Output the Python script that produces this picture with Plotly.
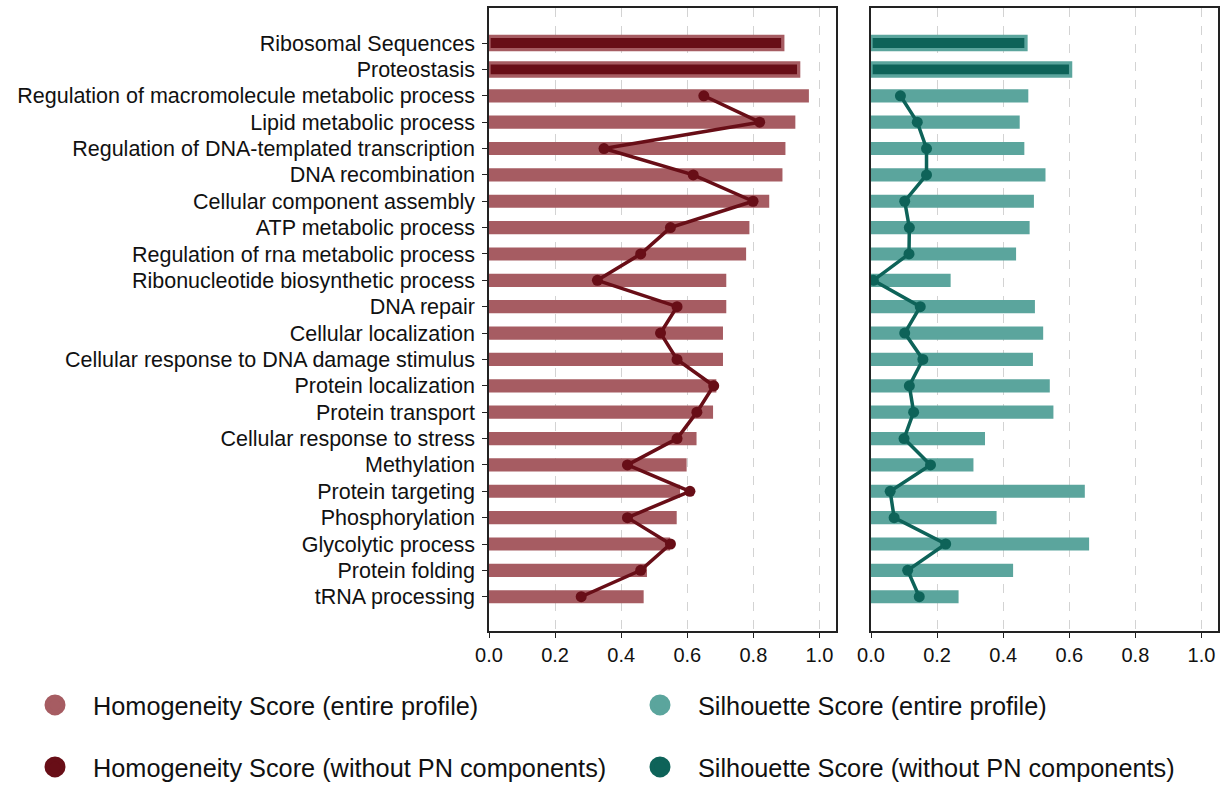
import plotly.graph_objects as go

categories = [
    "Ribosomal Sequences", "Proteostasis",
    "Regulation of macromolecule metabolic process", "Lipid metabolic process",
    "Regulation of DNA-templated transcription", "DNA recombination",
    "Cellular component assembly", "ATP metabolic process",
    "Regulation of rna metabolic process", "Ribonucleotide biosynthetic process",
    "DNA repair", "Cellular localization", "Cellular response to DNA damage stimulus",
    "Protein localization", "Protein transport", "Cellular response to stress",
    "Methylation", "Protein targeting", "Phosphorylation", "Glycolytic process",
    "Protein folding", "tRNA processing",
]

# Homogeneity score (entire profile)
homog_entire = [0.889, 0.937, 0.968, 0.927, 0.897, 0.888, 0.848, 0.788, 0.778, 0.718,
                0.718, 0.708, 0.708, 0.688, 0.678, 0.628, 0.598, 0.578, 0.568, 0.548,
                0.478, 0.468]
# Homogeneity score (without PN components)
homog_top_without = [0.889, 0.937]
homog_without = [0.650, 0.819, 0.348, 0.618, 0.799, 0.549, 0.459, 0.328, 0.569, 0.519,
                 0.569, 0.680, 0.629, 0.569, 0.419, 0.608, 0.419, 0.549, 0.459, 0.279]

# Silhouette score (entire profile)
sil_entire = [0.469, 0.604, 0.476, 0.450, 0.464, 0.528, 0.493, 0.480, 0.439, 0.241,
              0.496, 0.521, 0.490, 0.541, 0.552, 0.345, 0.310, 0.647, 0.380, 0.660,
              0.430, 0.265]
# Silhouette score (without PN components)
sil_top_without = [0.469, 0.604]
sil_without = [0.089, 0.140, 0.168, 0.168, 0.102, 0.116, 0.115, 0.007, 0.149, 0.102,
               0.157, 0.116, 0.129, 0.100, 0.180, 0.058, 0.070, 0.226, 0.111, 0.146]

x_ticks = [0.0, 0.2, 0.4, 0.6, 0.8, 1.0]

legend_names = ["Homogeneity Score (entire profile)",
                "Homogeneity Score (without PN components)",
                "Silhouette Score (entire profile)",
                "Silhouette Score (without PN components)"]

RED_L = "#A65C62"
RED_D = "#680E17"
TEAL_L = "#5BA59D"
TEAL_D = "#0E6359"

FONT = "Liberation Sans, Arial, sans-serif"

fig = go.Figure()

top_cats = categories[:2]
rest_cats = categories[2:]

def add_panel(xa, ya, entire, top_without, without, cl, cd):
    fig.add_trace(go.Bar(
        x=entire, y=categories, orientation="h", width=0.5,
        marker=dict(color=cl, line=dict(width=0)), xaxis=xa, yaxis=ya,
        showlegend=False))
    fig.add_trace(go.Bar(
        x=top_without, y=top_cats, orientation="h", width=0.5,
        marker=dict(color=cd, line=dict(color=cl, width=3.3)), xaxis=xa, yaxis=ya,
        showlegend=False))
    fig.add_trace(go.Scatter(
        x=without, y=rest_cats, mode="lines+markers",
        line=dict(color=cd, width=3.5), marker=dict(color=cd, size=11),
        xaxis=xa, yaxis=ya, showlegend=False))

add_panel("x", "y", homog_entire, homog_top_without, homog_without, RED_L, RED_D)
add_panel("x2", "y2", sil_entire, sil_top_without, sil_without, TEAL_L, TEAL_D)

# legend-only entries
leg_colors = [RED_L, RED_D, TEAL_L, TEAL_D]
leg_ids = ["legend", "legend2", "legend3", "legend4"]
for name, col, lid in zip(legend_names, leg_colors, leg_ids):
    fig.add_trace(go.Scatter(
        x=[None], y=[None], mode="markers", name=name,
        marker=dict(color=col, size=16, line=dict(color=col, width=5)),
        legend=lid, showlegend=True))

W, H = 1228, 785
def px_x(p):
    return p / W
def px_y(p):
    return 1 - p / H

xaxis_common = dict(
    range=[0, 1.05], tickvals=x_ticks, ticktext=[f"{v:.1f}" for v in x_ticks],
    showgrid=True, gridcolor="#D3D3D3", griddash="dash", gridwidth=1,
    showline=True, linecolor="#222222", linewidth=1.5, mirror=True,
    ticks="outside", ticklen=5, tickwidth=1.2, tickcolor="#222222",
    tickfont=dict(size=20, color="#111111", family=FONT), zeroline=False,
    automargin=False,
)
yaxis_common = dict(
    type="category", categoryorder="array", categoryarray=categories,
    range=[22.3, -1.33], showgrid=False, zeroline=False,
    showline=True, linecolor="#222222", linewidth=1.5, mirror=True,
    domain=[px_y(631), px_y(8)], automargin=False,
)

fig.update_layout(
    width=W, height=H,
    margin=dict(l=0, r=0, t=0, b=0, autoexpand=False),
    paper_bgcolor="white", plot_bgcolor="white",
    barmode="overlay",
    font=dict(family=FONT, color="#111111"),
    xaxis=dict(domain=[px_x(489), px_x(836)], anchor="y", **xaxis_common),
    xaxis2=dict(domain=[px_x(871), px_x(1218)], anchor="y2", **xaxis_common),
    yaxis=dict(anchor="x", ticks="outside", ticklen=5, tickwidth=1.2, tickcolor="#222222",
               ticklabelstandoff=3,
               tickfont=dict(size=21.5, color="#111111", family=FONT), **yaxis_common),
    yaxis2=dict(anchor="x2", showticklabels=False, ticks="", **yaxis_common),
)

leg_pos = {"legend": (px_x(17), px_y(705)), "legend2": (px_x(17), px_y(767)),
           "legend3": (px_x(622), px_y(705)), "legend4": (px_x(622), px_y(767))}
for lid, (lx, ly) in leg_pos.items():
    fig.update_layout({lid: dict(
        x=lx, y=ly, xanchor="left", yanchor="middle", orientation="v",
        bgcolor="rgba(0,0,0,0)", borderwidth=0, itemwidth=66,
        font=dict(size=25.3, color="#111111", family=FONT))})

fig.write_html("out.html", config={"displayModeBar": False},
               post_script="document.body.style.margin='0px';")
